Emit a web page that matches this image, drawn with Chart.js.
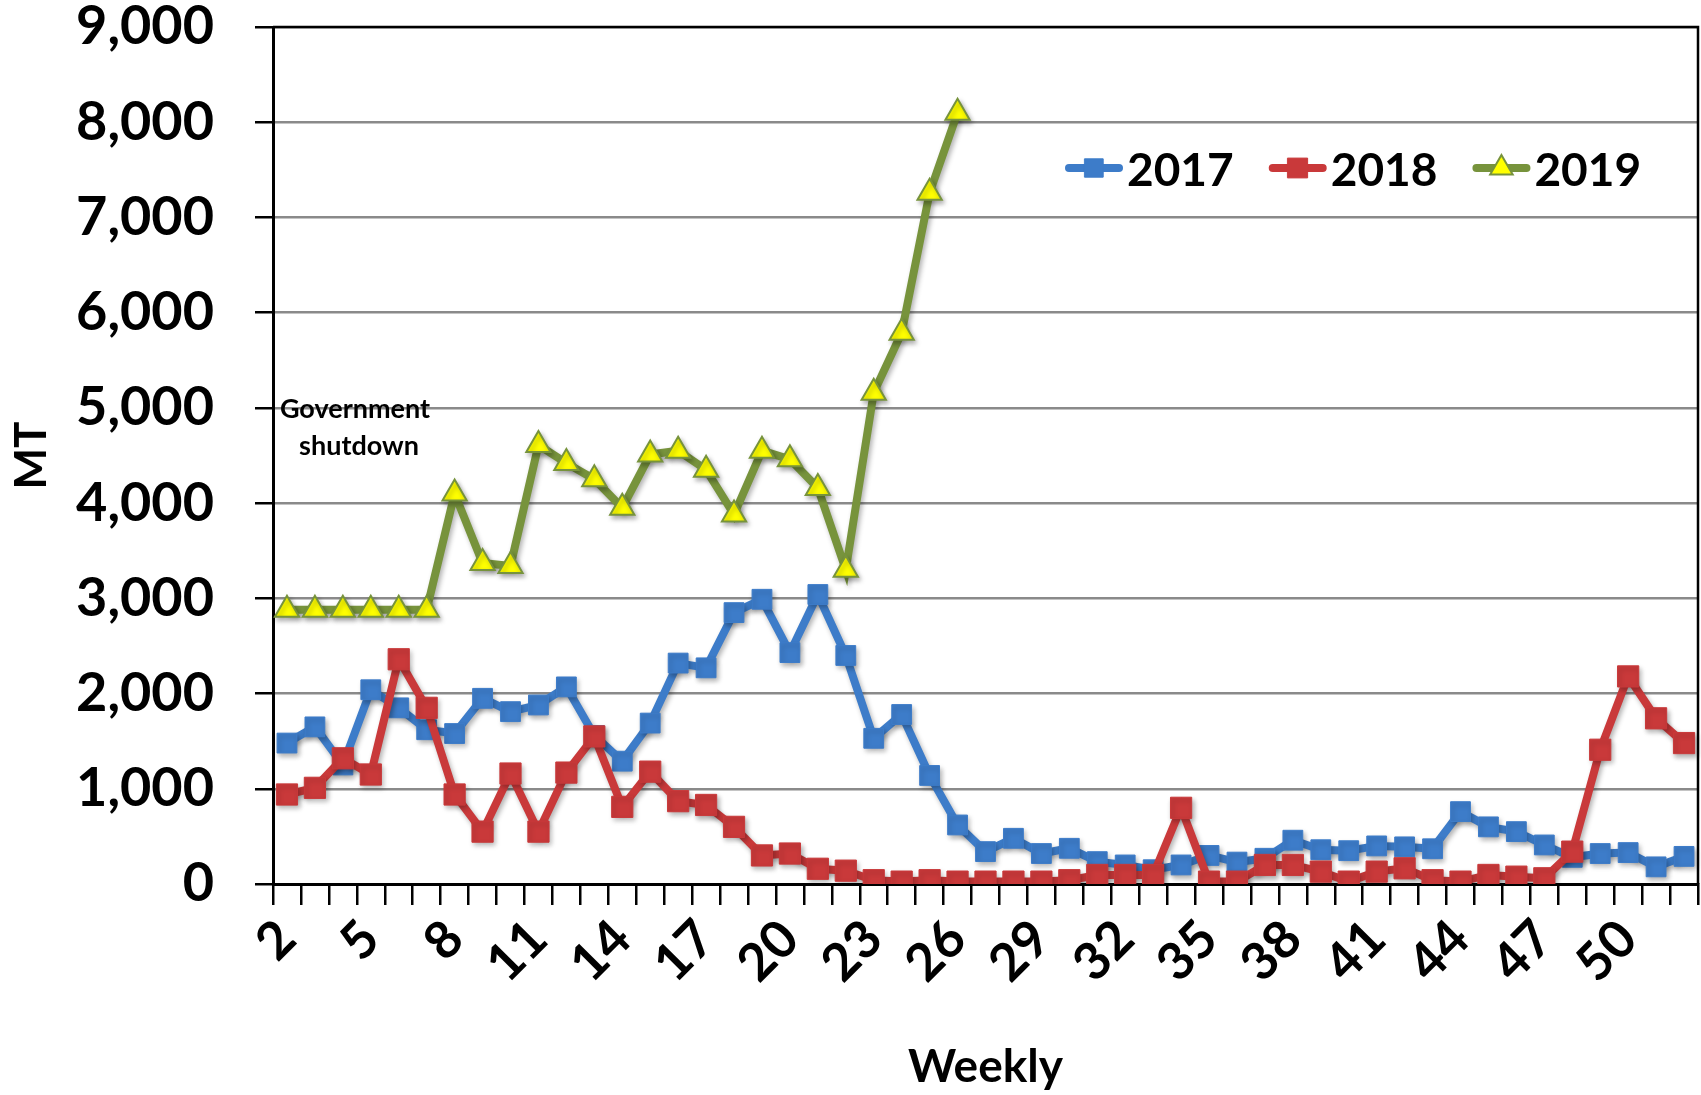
<!DOCTYPE html>
<html lang="en">
<head>
<meta charset="UTF-8">
<title>Weekly MT</title>
<script src="https://cdn.jsdelivr.net/npm/chart.js"></script>
<style>
  body { margin: 0; background: #fff; }
  canvas { display: block; }
</style>
</head>
<body>
<canvas id="myChart" width="1701" height="1095"></canvas>
<script>
// weekly volumes in MT, weeks 2..52
const weeks = ['2', '3', '4', '5', '6', '7', '8', '9', '10', '11', '12', '13', '14', '15', '16', '17', '18',
  '19', '20', '21', '22', '23', '24', '25', '26', '27', '28', '29', '30', '31', '32', '33', '34', '35',
  '36', '37', '38', '39', '40', '41', '42', '43', '44', '45', '46', '47', '48', '49', '50', '51', '52'];

const mt2017 = [1480, 1650, 1250, 2040, 1850, 1620, 1580, 1950, 1810, 1880, 2070, 1560, 1290, 1690, 2320, 2270,
  2850, 2990, 2430, 3040, 2400, 1530, 1780, 1140, 620, 340, 480, 320, 375, 235, 200, 150, 200, 300,
  230, 270, 460, 360, 350, 400, 390, 370, 760, 600, 550, 410, 280, 320, 330, 180, 290];

const mt2018 = [940, 1010, 1320, 1150, 2360, 1850, 940, 550, 1160, 550, 1170, 1550, 810, 1180, 870, 830,
  600, 300, 320, 160, 140, 40, 25, 40, 25, 25, 25, 25, 40, 95, 95, 95, 800, 25,
  25, 200, 200, 130, 25, 130, 165, 40, 25, 95, 77, 60, 340, 1410, 2180, 1740, 1480];

// 2019 only runs to week 26
const mt2019 = [2880, 2880, 2880, 2880, 2880, 2880, 4100, 3370, 3340, 4610, 4420, 4250, 3950, 4510, 4550, 4350,
  3880, 4550, 4460, 4160, 3300, 5160, 5790, 7260, 8100];

const yMax = 9000;
const yStep = 1000;
const noteLines = ['Government', 'shutdown'];

const FONT = 'Lato';

// black frame round the plot area
const frame = {
  id: 'frame',
  beforeDatasetsDraw(chart) {
    const a = chart.chartArea;
    const ctx = chart.ctx;
    ctx.save();
    ctx.strokeStyle = '#000';
    ctx.lineWidth = 2.5;
    ctx.beginPath();
    ctx.moveTo(a.left, a.top);
    ctx.lineTo(a.right, a.top);
    ctx.lineTo(a.right, a.bottom);
    ctx.stroke();
    ctx.restore();
  }
};

// soft drop shadow under each series
const shadow = {
  id: 'shadow',
  beforeDatasetDraw(chart) {
    const ctx = chart.ctx;
    ctx.save();
    ctx.shadowColor = 'rgba(0,0,0,0.3)';
    ctx.shadowBlur = 5;
    ctx.shadowOffsetX = 2;
    ctx.shadowOffsetY = 3;
  },
  afterDatasetDraw(chart) {
    chart.ctx.restore();
  }
};

// legend with line + marker, inside the plot
const lineLegend = {
  id: 'lineLegend',
  afterDraw(chart) {
    const ctx = chart.ctx;
    let x = 1065;
    const y = 168;
    ctx.save();
    ctx.font = 'bold 46px ' + FONT;
    ctx.textBaseline = 'middle';
    chart.data.datasets.forEach(ds => {
      ctx.strokeStyle = ds.borderColor;
      ctx.lineWidth = 8;
      ctx.lineCap = 'round';
      ctx.beginPath();
      ctx.moveTo(x + 4, y);
      ctx.lineTo(x + 54, y);
      ctx.stroke();
      ctx.fillStyle = ds.pointBackgroundColor;
      ctx.strokeStyle = ds.pointBorderColor;
      ctx.lineWidth = ds.pointBorderWidth;
      Chart.helpers.drawPoint(ctx, {pointStyle: ds.pointStyle, radius: ds.pointRadius - 1, borderWidth: ds.pointBorderWidth, rotation: 0}, x + 29, y);
      ctx.fillStyle = '#000';
      ctx.fillText(ds.label, x + 62, y + 3);
      x += 62 + ctx.measureText(ds.label).width + 35;
    });
    ctx.restore();
  }
};

// text note next to the flat 2019 weeks
const note = {
  id: 'note',
  afterDatasetsDraw(chart) {
    const ctx = chart.ctx;
    const x = chart.chartArea.left + 82;
    const yScale = chart.scales.y;
    ctx.save();
    ctx.font = 'bold 27px ' + FONT;
    ctx.fillStyle = '#000';
    ctx.textAlign = 'center';
    ctx.textBaseline = 'middle';
    ctx.fillText(noteLines[0], x, yScale.getPixelForValue(4990));
    ctx.fillText(noteLines[1], x + 4, yScale.getPixelForValue(4600));
    ctx.restore();
  }
};

function noPadding(scale) {
  scale.paddingLeft = 0;
  scale.paddingRight = 0;
  scale.paddingTop = 0;
  scale.paddingBottom = 0;
}

const ctx = document.getElementById('myChart');
new Chart(ctx, {
  type: 'line',
  data: {
    labels: weeks,
    datasets: [{
      label: '2017',
      data: mt2017,
      borderColor: '#3D7CC9',
      backgroundColor: '#3D7CC9',
      borderWidth: 8,
      pointStyle: 'rect',
      pointRadius: 14,
      pointBackgroundColor: '#3D7CC9',
      pointBorderColor: '#3D7CC9',
      pointBorderWidth: 1,
      order: 3
    }, {
      label: '2018',
      data: mt2018,
      borderColor: '#C9393A',
      backgroundColor: '#C9393A',
      borderWidth: 8,
      pointStyle: 'rect',
      pointRadius: 15,
      pointBackgroundColor: '#C9393A',
      pointBorderColor: '#C9393A',
      pointBorderWidth: 1,
      order: 2
    }, {
      label: '2019',
      data: mt2019,
      borderColor: '#77933C',
      backgroundColor: '#FFFF00',
      borderWidth: 8,
      pointStyle: 'triangle',
      pointRadius: 14,
      pointBackgroundColor: '#FFFF00',
      pointBorderColor: '#77933C',
      pointBorderWidth: 2,
      order: 1
    }]
  },
  options: {
    responsive: false,
    animation: false,
    devicePixelRatio: 1,
    layout: { autoPadding: false, padding: { top: 27, right: 3, left: 0, bottom: 0 } },
    plugins: {
      legend: { display: false },
      tooltip: { enabled: false }
    },
    scales: {
      x: {
        offset: true,
        grid: {
          offset: true,
          drawOnChartArea: false,
          color: '#000',
          lineWidth: 2.5,
          tickLength: 21
        },
        border: { color: '#000', width: 3 },
        ticks: {
          autoSkip: false,
          minRotation: 45,
          maxRotation: 45,
          padding: 3,
          color: '#000',
          font: { family: FONT, size: 52, weight: 'bold' },
          callback: (v, i) => (i % 3 === 0 ? weeks[i] : '')
        },
        title: {
          display: true,
          text: 'Weekly',
          color: '#000',
          font: { family: FONT, size: 46, weight: 'bold' },
          padding: { top: 0, bottom: 0 }
        },
        afterFit(scale) {
          scale.height = 211;
          noPadding(scale);
        }
      },
      y: {
        min: 0,
        max: yMax,
        grid: {
          color: '#8a8a8a',
          lineWidth: 2.5,
          tickColor: '#000',
          tickLength: 18
        },
        border: { color: '#000', width: 3 },
        ticks: {
          stepSize: yStep,
          padding: 41,
          color: '#000',
          font: { family: FONT, size: 54, weight: 'bold', lineHeight: 1 },
          callback: v => v.toLocaleString('en-US')
        },
        title: {
          display: true,
          text: 'MT',
          color: '#000',
          font: { family: FONT, size: 44, weight: 'bold' },
          padding: { top: 5, bottom: 0 }
        },
        afterFit(scale) {
          scale.width = 273;
          noPadding(scale);
        }
      }
    }
  },
  plugins: [frame, shadow, note, lineLegend]
});
</script>
</body>
</html>
